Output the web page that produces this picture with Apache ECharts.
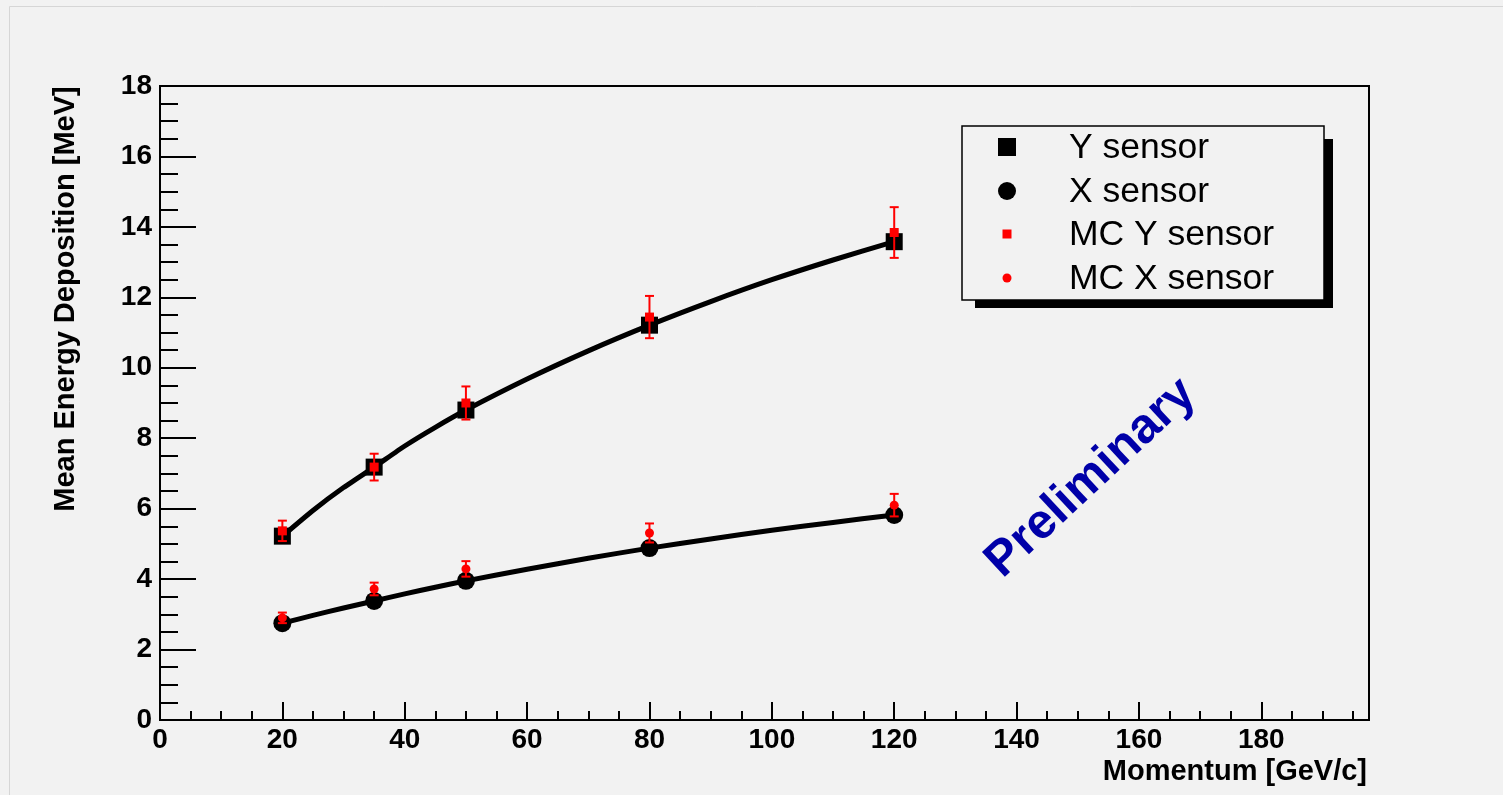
<!DOCTYPE html>
<html>
<head>
<meta charset="utf-8">
<script src="https://cdn.jsdelivr.net/npm/echarts@6/dist/echarts.min.js"></script>
<style>
  html, body { margin: 0; padding: 0; background: #f2f2f2; }
  #chart { width: 1503px; height: 795px; }
</style>
</head>
<body>
<div id="chart"></div>
<script>
// momentum points
var momentum = [20, 35, 50, 80, 120];
// data
var ySensor = [5.22, 7.18, 8.80, 11.21, 13.58];
var xSensor = [2.75, 3.38, 3.95, 4.88, 5.82];
// monte carlo
var mcYSensor = [5.37, 7.18, 9.00, 11.44, 13.84];
var mcYErr = [0.29, 0.38, 0.47, 0.60, 0.72];
var mcXSensor = [2.90, 3.72, 4.29, 5.31, 6.10];
var mcXErr = [0.15, 0.18, 0.22, 0.27, 0.32];

// fit curves
var fitMomentum = [20, 25, 30, 35, 40, 45, 50, 60, 70, 80, 90, 100, 110, 120];
var yFit = [5.22, 5.95, 6.60, 7.18, 7.78, 8.31, 8.80, 9.68, 10.48, 11.21, 11.88, 12.50, 13.06, 13.58];
var xFit = [2.75, 2.97, 3.18, 3.38, 3.58, 3.77, 3.95, 4.28, 4.59, 4.88, 5.14, 5.39, 5.61, 5.82];

var legendNames = ['Y sensor', 'X sensor', 'MC Y sensor', 'MC X sensor'];

var FONT = '"Liberation Sans", Arial, sans-serif';

function pairs(xs, ys) {
    return xs.map(function (x, i) { return [x, ys[i]]; });
}
function errData(ys, errs) {
    return momentum.map(function (x, i) { return [x, ys[i] - errs[i], ys[i] + errs[i]]; });
}

function renderErr(params, api) {
    var lo = api.coord([api.value(0), api.value(1)]);
    var hi = api.coord([api.value(0), api.value(2)]);
    var cap = 4.5;
    var st = { stroke: '#ff0000', lineWidth: 2 };
    return {
        type: 'group',
        children: [
            { type: 'line', shape: { x1: lo[0], y1: lo[1], x2: hi[0], y2: hi[1] }, style: st },
            { type: 'line', shape: { x1: lo[0] - cap, y1: lo[1], x2: lo[0] + cap, y2: lo[1] }, style: st },
            { type: 'line', shape: { x1: hi[0] - cap, y1: hi[1], x2: hi[0] + cap, y2: hi[1] }, style: st }
        ]
    };
}

var chart = echarts.init(document.getElementById('chart'));

// legend drawn by hand (ROOT style box with shadow)
var legX = 962, legY = 126, legW = 362, legH = 174;
var rowY = [147, 191, 234, 278];
var legendItems = [
    { type: 'rect', shape: { x: legX + 13, y: legY + 13, width: legW - 4, height: legH - 5 }, style: { fill: '#000' } },
    { type: 'rect', shape: { x: legX, y: legY, width: legW, height: legH }, style: { fill: '#f2f2f2', stroke: '#000', lineWidth: 1.5 } },
    { type: 'rect', shape: { x: 1007 - 9, y: rowY[0] - 9, width: 18, height: 18 }, style: { fill: '#000' } },
    { type: 'circle', shape: { cx: 1007, cy: rowY[1], r: 9 }, style: { fill: '#000' } },
    { type: 'rect', shape: { x: 1007 - 4.5, y: rowY[2] - 4.5, width: 9, height: 9 }, style: { fill: '#ff0000' } },
    { type: 'circle', shape: { cx: 1007, cy: rowY[3], r: 4.5 }, style: { fill: '#ff0000' } }
];
legendNames.forEach(function (n, i) {
    legendItems.push({
        type: 'text', x: 1069, y: rowY[i] + 1,
        style: { text: n, font: '35.5px ' + FONT, fill: '#000', textAlign: 'left', textVerticalAlign: 'middle' }
    });
});

var option = {
    backgroundColor: '#f2f2f2',
    animation: false,
    grid: {
        left: 160, top: 86, right: 134, bottom: 75,
        show: true, borderColor: '#000', borderWidth: 2, backgroundColor: 'transparent'
    },
    xAxis: [{
        type: 'value',
        min: 0, max: 197.6, interval: 20,
        position: 'bottom',
        axisLine: { lineStyle: { color: '#000', width: 2 } },
        axisTick: { inside: true, length: 18, lineStyle: { color: '#000', width: 2 } },
        axisLabel: {
            showMaxLabel: false, margin: 6, color: '#000',
            fontSize: 28, fontWeight: 'bold', fontFamily: FONT
        },
        splitLine: { show: false }
    }, {
        // minor ticks every 5
        type: 'value',
        min: 0, max: 197.6, interval: 5,
        position: 'bottom',
        axisLine: { show: false },
        axisTick: { inside: true, length: 9, lineStyle: { color: '#000', width: 2 } },
        axisLabel: { show: false },
        splitLine: { show: false }
    }],
    yAxis: {
        type: 'value',
        min: 0, max: 18, interval: 2,
        axisLine: { show: true, lineStyle: { color: '#000', width: 2 } },
        axisTick: { show: true, inside: true, length: 36, lineStyle: { color: '#000', width: 2 } },
        minorTick: { show: true, splitNumber: 4, length: 18, lineStyle: { color: '#000', width: 2 } },
        axisLabel: {
            margin: 8, color: '#000',
            fontSize: 28, fontWeight: 'bold', fontFamily: FONT
        },
        splitLine: { show: false }
    },
    series: [
        {
            name: 'Y fit', type: 'line', data: pairs(fitMomentum, yFit), smooth: 0.2,
            showSymbol: false, lineStyle: { color: '#000', width: 5 }, z: 2
        },
        {
            name: 'X fit', type: 'line', data: pairs(fitMomentum, xFit), smooth: 0.2,
            showSymbol: false, lineStyle: { color: '#000', width: 5 }, z: 2
        },
        {
            name: legendNames[0], type: 'scatter', data: pairs(momentum, ySensor),
            symbol: 'rect', symbolSize: 17, itemStyle: { color: '#000', opacity: 1 }, z: 3
        },
        {
            name: legendNames[1], type: 'scatter', data: pairs(momentum, xSensor),
            symbol: 'circle', symbolSize: 18, itemStyle: { color: '#000', opacity: 1 }, z: 3
        },
        {
            name: 'MC Y err', type: 'custom', data: errData(mcYSensor, mcYErr),
            renderItem: renderErr, encode: { x: 0, y: [1, 2] }, z: 4
        },
        {
            name: 'MC X err', type: 'custom', data: errData(mcXSensor, mcXErr),
            renderItem: renderErr, encode: { x: 0, y: [1, 2] }, z: 4
        },
        {
            name: legendNames[2], type: 'scatter', data: pairs(momentum, mcYSensor),
            symbol: 'rect', symbolSize: 9, itemStyle: { color: '#ff0000', opacity: 1 }, z: 5
        },
        {
            name: legendNames[3], type: 'scatter', data: pairs(momentum, mcXSensor),
            symbol: 'circle', symbolSize: 9, itemStyle: { color: '#ff0000', opacity: 1 }, z: 5
        }
    ],
    graphic: [
        // pad border
        { type: 'rect', shape: { x: 9.5, y: 6.5, width: 2000, height: 2000 }, style: { fill: 'transparent', stroke: '#d6d6d6', lineWidth: 1 }, z: 0 },
        // axis titles
        {
            type: 'text', x: 1367, y: 772,
            style: { text: 'Momentum [GeV/c]', font: 'bold 29px ' + FONT, fill: '#000', textAlign: 'right', textVerticalAlign: 'middle' }
        },
        {
            type: 'text', x: 66, y: 299, rotation: Math.PI / 2,
            style: { text: 'Mean Energy Deposition [MeV]', font: 'bold 29px ' + FONT, fill: '#000', textAlign: 'center', textVerticalAlign: 'middle' }
        },
        // watermark
        {
            type: 'text', x: 1091, y: 478, rotation: 43 * Math.PI / 180,
            style: { text: 'Preliminary', font: 'bold 49px ' + FONT, fill: '#0000a8', textAlign: 'center', textVerticalAlign: 'middle' }
        },
        { type: 'group', children: legendItems, z: 10 }
    ]
};

chart.setOption(option);
</script>
</body>
</html>
